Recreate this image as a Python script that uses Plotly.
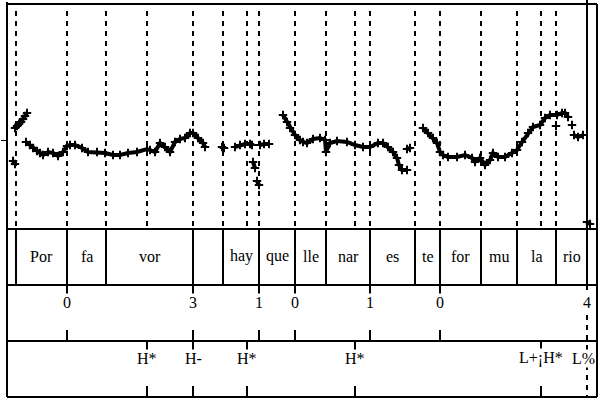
import plotly.graph_objects as go

# pitch track (time in s, f0 in Hz); None separates unvoiced stretches
pitch_t = [0.030, 0.040, None,
           0.040, 0.050, 0.060, 0.070, 0.080, 0.090, 0.100, None,
           0.095, 0.115, 0.130, 0.150, 0.165, 0.180, 0.205, 0.230, 0.255, 0.280,
           0.300, 0.315, 0.340, 0.375, 0.405, 0.450, 0.490, 0.530, 0.565, 0.605,
           0.650, 0.700, 0.715, 0.740, 0.765, 0.790, 0.815, 0.840, 0.865, 0.890,
           0.915, 0.930, 0.955, 0.980, 0.990, None,
           1.075, 1.085, None,
           1.140, 1.165, 1.190, 1.215, 1.225, None,
           1.230, 1.240, None, 1.250, 1.260, None,
           1.265, 1.285, 1.310, None,
           1.380, 1.400, 1.415, 1.440, 1.465, 1.480, 1.500, 1.530, 1.565, 1.590,
           1.595, 1.615, 1.650, 1.700, 1.740, 1.780, 1.815, 1.855, 1.880, 1.905,
           1.930, 1.950, 1.960, 1.975, 2.000, None,
           2.000, 2.015, None,
           2.080, 2.105, 2.130, 2.150, 2.165, 2.180, 2.205, 2.250, 2.290, 2.325,
           2.340, 2.365, 2.390, 2.415, 2.430, 2.455, 2.490, 2.525, 2.550, 2.575,
           2.605, 2.630, 2.665, 2.690, 2.715, 2.750, 2.775, 2.790, 2.805, None,
           2.745, None,
           2.825, None,
           2.835, 2.855, 2.880, None,
           2.900, 2.915]
pitch_hz = [158, 152, None,
            224, 228, 232, 236, 242, 248, 254, None,
            196, 190, 184, 178, 174, 170, 176, 174, 168, 176,
            188, 190, 190, 184, 176, 176, 174, 170, 170, 174,
            176, 182, 180, 176, 194, 186, 176, 196, 202, 204,
            214, 214, 204, 194, 186, None,
            186, 184, None,
            186, 190, 192, 192, 190, None,
            156, 144, None, 118, 110, None,
            190, 192, 192, None,
            250, 236, 224, 210, 200, 196, 194, 202, 204, 200,
            176, 194, 198, 196, 190, 186, 186, 194, 194, 186,
            176, 164, 150, 140, 140, None,
            182, 184, None,
            224, 214, 204, 194, 176, 170, 166, 166, 170, 164,
            156, 164, 150, 160, 174, 166, 166, 174, 180, 196,
            214, 226, 230, 244, 250, 250, 254, 254, 246, None,
            228, None,
            230, None,
            210, 206, 210, None,
            36, 32]

# syllable tier
syl_bounds = [0.045, 0.300, 0.495, 0.930, 1.080, 1.260, 1.440, 1.595,
              1.815, 2.040, 2.165, 2.370, 2.550, 2.745, 2.900]
syl_labels = ['Por', 'fa', 'vor', '', 'hay', 'que', 'lle', 'nar',
              'es', 'te', 'for', 'mu', 'la', 'rio']

# break indices tier
break_t = [0.300, 0.930, 1.260, 1.440, 1.815, 2.165, 2.900]
break_labels = ['0', '3', '1', '0', '1', '0', '4']

# tones tier
tone_t = [0.700, 0.930, 1.200, 1.740, 2.670, 2.900]
tone_labels = ['H*', 'H-', 'H*', 'H*', 'L+¡H*', 'L%']

W, H = 600, 402
X0, X1 = 7, 597          # plot frame, pixels
T_END = 2.95


def py(v):
    # pixel row -> paper y
    return 1 - v / H


def px(v):
    return v / W


TOP, SYL_TOP, BRK_TOP, TON_TOP, BOT = 5, 229, 285, 341, 397
FONT = dict(family='Liberation Serif, Times New Roman, serif', size=16, color='black')
DASH = '5px,5px'

fig = go.Figure()
fig.add_trace(go.Scatter(
    x=pitch_t, y=pitch_hz, mode='lines+markers',
    line=dict(color='black', width=4),
    marker=dict(symbol='cross-thin', size=6, color='black',
                line=dict(color='black', width=2)),
    connectgaps=False, hoverinfo='skip', showlegend=False
))

shapes = []


def hline(y, x0=X0, x1=X1, width=2):
    shapes.append(dict(type='line', xref='paper', yref='paper',
                       x0=px(x0), x1=px(x1), y0=py(y), y1=py(y),
                       line=dict(color='black', width=width)))


def vline(t, y0, y1, dash='solid', width=2):
    shapes.append(dict(type='line', xref='x', yref='paper',
                       x0=t, x1=t, y0=py(y0), y1=py(y1),
                       line=dict(color='black', width=width, dash=dash)))


# frame
hline(TOP - 1, X0, X1)
for y in (SYL_TOP, BRK_TOP, TON_TOP, BOT):
    hline(y)
shapes.append(dict(type='line', xref='paper', yref='paper',
                   x0=px(X0), x1=px(X0), y0=py(2), y1=py(BOT),
                   line=dict(color='black', width=2)))
shapes.append(dict(type='line', xref='paper', yref='paper',
                   x0=px(X1), x1=px(X1), y0=py(TOP - 1), y1=py(BOT),
                   line=dict(color='black', width=2)))

# dashed guides in the pitch panel
guides = sorted(set(syl_bounds[:-1] + tone_t[:-1]))
for t in guides:
    vline(t, TOP + 6, SYL_TOP, dash=DASH, width=2)

# utterance end: solid through top panels, dashed below
vline(syl_bounds[-1], 0, BRK_TOP)
vline(syl_bounds[-1], BRK_TOP, BOT, dash=DASH)

# syllable boundaries
for t in syl_bounds:
    vline(t, SYL_TOP, BRK_TOP)

# break index ticks
for t in break_t[:-1]:
    vline(t, BRK_TOP, BRK_TOP + 11)
    vline(t, TON_TOP - 11, TON_TOP)

# tone ticks
for t in tone_t[:-1]:
    vline(t, TON_TOP, TON_TOP + 11)
    vline(t, BOT - 11, BOT)

annotations = []
for i, lab in enumerate(syl_labels):
    if lab:
        annotations.append(dict(x=(syl_bounds[i] + syl_bounds[i + 1]) / 2, y=py(256),
                                xref='x', yref='paper', text=lab, showarrow=False,
                                font=FONT))
for t, lab in zip(break_t, break_labels):
    annotations.append(dict(x=t, y=py(312), xref='x', yref='paper', text=lab,
                            showarrow=False, font=FONT, bgcolor='white',
                            borderpad=0))
for t, lab in zip(tone_t, tone_labels):
    last = lab == tone_labels[-1] and t == tone_t[-1]
    annotations.append(dict(x=t - 0.02 if last else t, y=py(368), xref='x', yref='paper',
                            text=lab, showarrow=False, font=FONT, bgcolor='white',
                            borderpad=0))

fig.update_layout(
    width=W, height=H,
    margin=dict(l=0, r=0, t=0, b=0),
    paper_bgcolor='white', plot_bgcolor='white',
    shapes=shapes, annotations=annotations,
    xaxis=dict(domain=[px(X0), px(X1)], range=[0, T_END], visible=False),
    yaxis=dict(domain=[py(SYL_TOP), py(TOP)], range=[22, 470],
               showgrid=False, zeroline=False, showline=False,
               ticks='outside', ticklen=5, tickwidth=1, tickcolor='black',
               tickvals=[200], showticklabels=False),
)

fig.write_html("out.html", config={'displayModeBar': False},
               post_script="document.body.style.margin='0px';")
